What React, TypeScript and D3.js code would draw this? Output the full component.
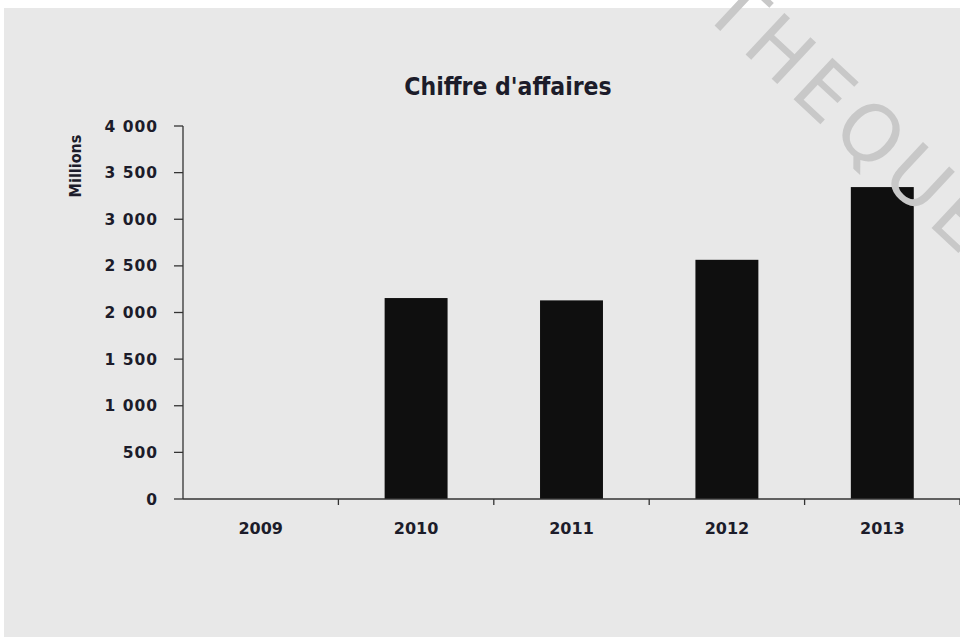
import React from "react";
import * as d3 from "d3";

const years = ["2009", "2010", "2011", "2012", "2013"];
const revenue: (number | null)[] = [null, 2155, 2130, 2565, 3345];
const yTicks = [0, 500, 1000, 1500, 2000, 2500, 3000, 3500, 4000];
const title = "Chiffre d'affaires";
const yTitle = "Millions";
const watermark = "THEQUE";

const W = 960;
const H = 637;
const M = { left: 183, right: 960, top: 126, bottom: 499 };

const locale = d3.formatLocale({ decimal: ",", thousands: "\u00a0", grouping: [3], currency: ["", " €"] });
const fmt = locale.format(",d");

export default function App() {
  const x = d3
    .scaleBand<string>()
    .domain(years)
    .range([M.left, M.right])
    .paddingInner(0.595)
    .paddingOuter(0.2975);
  const y = d3.scaleLinear().domain([0, 4000]).range([M.bottom, M.top]);
  const step = x.step();
  const boundaries = years.map((_, i) => M.left + step * (i + 1));
  const labelFont = "'DejaVu Sans', Verdana, sans-serif";
  const textColor = "#1c1c2a";

  return (
    <svg
      width={W}
      height={H}
      style={{ position: "absolute", left: 0, top: 0, display: "block" }}
    >
      <rect x={0} y={0} width={W} height={H} fill="#ffffff" />
      <rect x={4} y={8} width={W - 4} height={H - 8} fill="#e8e8e8" />

      <text
        x={508}
        y={95}
        textAnchor="middle"
        fontFamily="'Liberation Sans Narrow', 'DejaVu Sans Condensed', 'Arial Narrow', sans-serif"
        fontWeight="bold"
        fontSize={24.5}
        fill={textColor}
      >
        {title}
      </text>

      <text
        transform={`translate(81,166) rotate(-90)`}
        textAnchor="middle"
        fontFamily="'Liberation Sans Narrow', 'DejaVu Sans Condensed', sans-serif"
        fontWeight="bold"
        fontSize={16}
        fill={textColor}
      >
        {yTitle}
      </text>

      {years.map((yr, i) =>
        revenue[i] == null ? null : (
          <rect
            key={yr}
            x={x(yr)}
            y={y(revenue[i] as number)}
            width={x.bandwidth()}
            height={y(0) - y(revenue[i] as number)}
            fill="#0f0f0f"
          />
        )
      )}

      <line x1={M.left} x2={M.left} y1={M.top} y2={M.bottom} stroke="#333" strokeWidth={1.3} />
      {yTicks.map((t) => (
        <g key={t}>
          <line x1={M.left - 9} x2={M.left} y1={y(t)} y2={y(t)} stroke="#333" strokeWidth={1.3} />
          <text
            x={158}
            y={y(t)}
            dy="0.36em"
            textAnchor="end"
            fontFamily={labelFont}
            fontWeight="bold"
            fontSize={15.5}
            letterSpacing={1}
            fill={textColor}
          >
            {fmt(t)}
          </text>
        </g>
      ))}

      <line x1={M.left} x2={M.right} y1={M.bottom} y2={M.bottom} stroke="#333" strokeWidth={1.3} />
      {boundaries.map((bx, i) => (
        <line key={i} x1={bx} x2={bx} y1={M.bottom} y2={M.bottom + 6} stroke="#333" strokeWidth={1.3} />
      ))}
      {years.map((yr) => (
        <text
          key={yr}
          x={(x(yr) as number) + x.bandwidth() / 2}
          y={534}
          textAnchor="middle"
          fontFamily={labelFont}
          fontWeight="bold"
          fontSize={16}
          fill={textColor}
        >
          {yr}
        </text>
      ))}

      <text
        transform="translate(700,12) rotate(43)"
        fontFamily="'DejaVu Sans', sans-serif"
        fontWeight={400}
        fontSize={78}
        letterSpacing={7}
        fill="#c8c8c8"
      >
        {watermark}
      </text>
    </svg>
  );
}
